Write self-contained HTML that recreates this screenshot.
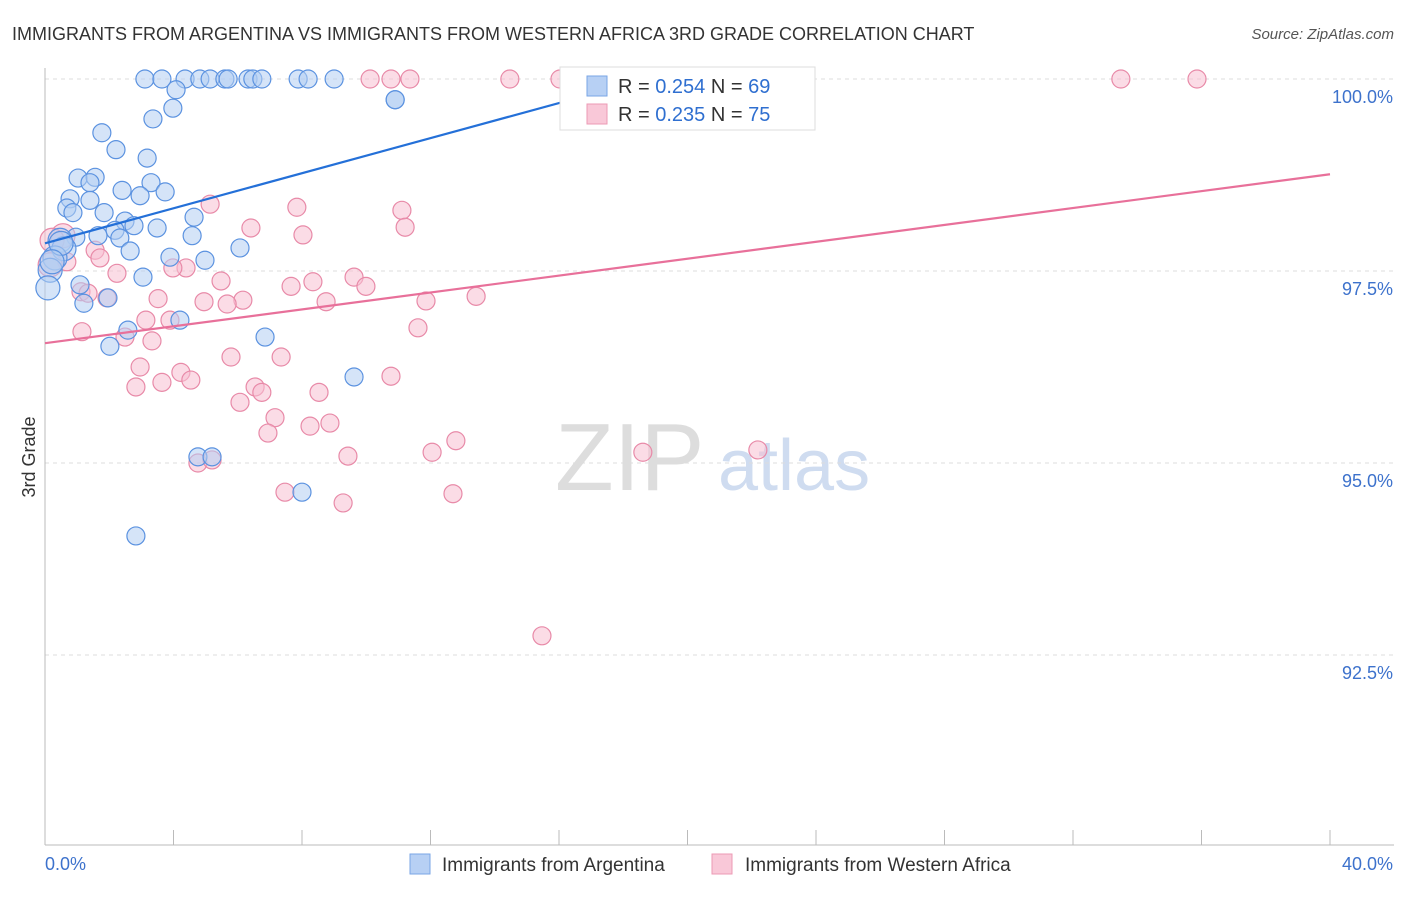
<!DOCTYPE html>
<html><head><meta charset="utf-8"><style>
body{margin:0;background:#fff;font-family:"Liberation Sans",sans-serif}
svg text{font-family:"Liberation Sans",sans-serif}
</style></head><body>
<svg width="1406" height="892">
<text x="12" y="40" font-size="18" fill="#333">IMMIGRANTS FROM ARGENTINA VS IMMIGRANTS FROM WESTERN AFRICA 3RD GRADE CORRELATION CHART</text>
<text x="1394" y="39" font-size="15" fill="#555" font-style="italic" text-anchor="end">Source: ZipAtlas.com</text>
<text x="35" y="457" font-size="18" fill="#333" transform="rotate(-90 35 457)" text-anchor="middle">3rd Grade</text>
<text x="555" y="490" font-size="96" fill="#ddd" font-family="Liberation Serif">ZIP</text>
<text x="718" y="490" font-size="72" fill="#cfdcf0">atlas</text>
<g id="grid"></g><g id="axes"></g><g id="pts"></g><g id="lines"></g>
<g>
<rect x="560" y="67" width="255" height="63" fill="#fff" stroke="#ddd"/>
<rect x="587" y="76" width="20" height="20" fill="#b7d0f4" stroke="#7aa6e6"/>
<rect x="587" y="104" width="20" height="20" fill="#f9c8d8" stroke="#ec9ab4"/>
<text x="618" y="93" font-size="20" fill="#333">R = <tspan fill="#2f6fd0">0.254</tspan>   N = <tspan fill="#2f6fd0">69</tspan></text>
<text x="618" y="121" font-size="20" fill="#333">R = <tspan fill="#2f6fd0">0.235</tspan>   N = <tspan fill="#2f6fd0">75</tspan></text>
</g>
<g>
<rect x="410" y="854" width="20" height="20" fill="#b7d0f4" stroke="#7aa6e6"/>
<text x="442" y="871" font-size="19" fill="#333">Immigrants from Argentina</text>
<rect x="712" y="854" width="20" height="20" fill="#f9c8d8" stroke="#ec9ab4"/>
<text x="745" y="871" font-size="19" fill="#333">Immigrants from Western Africa</text>
</g>
</svg>
<script>
const yTicks=[100,97.5,95,92.5];
const yTickLabels=["100.0%","97.5%","95.0%","92.5%"];
const xTickLabels=["0.0%","40.0%"];
const blueX=[3.11,3.64,4.36,4.82,5.14,5.60,5.70,6.32,6.47,6.75,7.88,8.19,9.00,10.90,10.90,4.08,3.98,3.36,1.77,2.21,3.18,1.03,1.56,1.40,3.30,2.40,3.74,2.96,0.78,1.40,0.68,0.87,1.84,4.64,2.49,3.49,2.18,2.77,1.65,0.96,2.33,0.47,4.58,6.07,2.65,0.59,0.31,3.89,4.98,0.16,3.05,1.09,1.96,1.21,0.09,4.20,2.58,6.85,2.02,9.62,4.76,5.20,8.00,2.83,0.50,0.22];
const blueY=[100,100,100,100,100,100,100,100,100,100,100,100,100,99.73,99.73,99.86,99.62,99.48,99.30,99.08,98.97,98.71,98.72,98.65,98.65,98.55,98.53,98.48,98.44,98.42,98.32,98.26,98.26,98.20,98.15,98.06,98.03,98.09,97.96,97.94,97.93,97.90,97.96,97.80,97.76,97.79,97.67,97.68,97.64,97.51,97.42,97.32,97.15,97.08,97.28,96.86,96.73,96.64,96.52,96.12,95.08,95.08,94.62,94.05,97.86,97.62];
const pinkX=[10.12,10.77,11.36,14.47,16.03,16.65,33.49,35.86,5.14,7.84,11.11,11.21,6.41,8.03,0.56,0.22,1.56,0.68,1.71,4.39,3.98,2.24,5.48,9.62,9.99,7.66,8.34,1.12,1.34,1.93,3.52,6.16,4.95,5.67,8.75,11.86,13.42,3.14,3.89,11.61,1.15,3.33,2.49,2.96,7.35,5.79,4.23,4.54,2.83,3.64,6.54,6.75,8.53,10.77,6.07,7.16,8.87,8.25,6.94,12.79,12.05,9.43,4.76,5.20,18.61,22.19,7.47,12.70,9.28,15.47,0.16];
const pinkY=[100,100,100,100,100,100,100,100,98.37,98.33,98.29,98.07,98.06,97.97,97.96,97.90,97.77,97.62,97.67,97.54,97.54,97.47,97.37,97.42,97.30,97.30,97.36,97.23,97.21,97.15,97.14,97.12,97.10,97.07,97.10,97.11,97.17,96.86,96.86,96.76,96.71,96.59,96.64,96.25,96.38,96.38,96.18,96.08,95.99,96.05,95.99,95.92,95.92,96.13,95.79,95.59,95.52,95.48,95.39,95.29,95.14,95.09,95.00,95.04,95.14,95.17,94.62,94.60,94.48,92.75,97.58];
const blueTrend=[97.86,100.01,18.83];
const pinkTrend=[96.56,98.76,40];
const NS="http://www.w3.org/2000/svg";
const X0=45,X1=1330,Y100=79,PXPER=192/2.5;
const sx=v=>X0+(X1-X0)*v/40;
const sy=v=>Y100+(100-v)*PXPER;
function mk(tag,attrs,parent){const e=document.createElementNS(NS,tag);for(const k in attrs)e.setAttribute(k,attrs[k]);parent.appendChild(e);return e;}
const grid=document.getElementById('grid'),axes=document.getElementById('axes'),pts=document.getElementById('pts'),lines=document.getElementById('lines');
yTicks.forEach((t,i)=>{
 const l=mk('line',{x1:X0,x2:1394,y1:sy(t),y2:sy(t),stroke:'#ddd','stroke-dasharray':'4 4'},grid);
 
 
 const tx=mk('text',{x:1393,y:sy(t)+24,'font-size':18,fill:'#3d72cc','text-anchor':'end'},axes);
 tx.textContent=yTickLabels[i];
 
 
});
let a=mk('line',{x1:X0,x2:X0,y1:68,y2:845,stroke:'#bbb'},axes);


a=mk('line',{x1:X0,x2:1394,y1:845,y2:845,stroke:'#bbb'},axes);


for(let i=0;i<=10;i++){const t=mk('line',{x1:sx(i*4),x2:sx(i*4),y1:830,y2:845,stroke:'#bbb'},axes);
 
 }
let t0=mk('text',{x:45,y:870,'font-size':18,fill:'#3d72cc'},axes);t0.textContent=xTickLabels[0];


let t1=mk('text',{x:1393,y:870,'font-size':18,fill:'#3d72cc','text-anchor':'end'},axes);t1.textContent=xTickLabels[1];


function dots(xs,ys,fill,stroke,name){xs.forEach((x,i)=>{const c=mk('circle',{cx:sx(x),cy:sy(ys[i]),r:x<0.6?12:9,fill:fill,'fill-opacity':0.55,stroke:stroke,'stroke-width':1.2},pts);
 
 });}
dots(pinkX,pinkY,'#f7bfd1','#e88aa8','point-western-africa');
dots(blueX,blueY,'#b3cdf2','#5b92e0','point-argentina');
let bl=mk('line',{x1:sx(0),y1:sy(blueTrend[0]),x2:sx(blueTrend[2]),y2:sy(blueTrend[1]),stroke:'#2470d8','stroke-width':2.2},lines);


let pl=mk('line',{x1:sx(0),y1:sy(pinkTrend[0]),x2:sx(pinkTrend[2]),y2:sy(pinkTrend[1]),stroke:'#e8709a','stroke-width':2.2},lines);


</script>
</body></html>
